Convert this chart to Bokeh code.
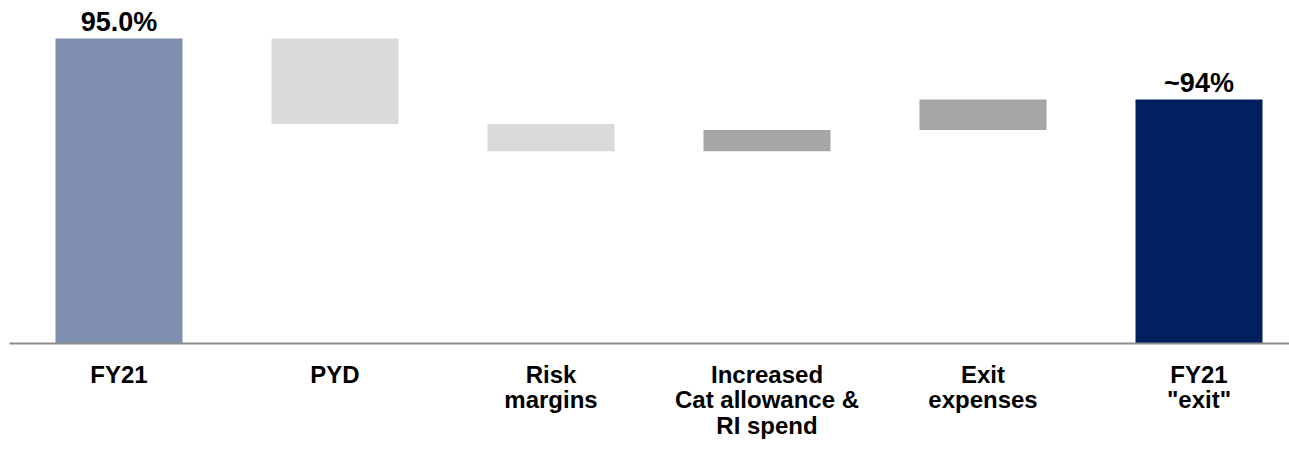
from bokeh.plotting import figure
from bokeh.models import Range1d, FixedTicker, ColumnDataSource
from bokeh.embed import file_html
from bokeh.resources import INLINE
from bokeh.core.properties import value

# ---- data ----
categories = ["FY21", "PYD", "Risk\nmargins", "Increased\nCat allowance &\nRI spend",
              "Exit\nexpenses", "FY21\n\"exit\""]
start_total = 95.0
steps = [-1.40, -0.45, 0.35, 0.50]
end_total = 94.0
axis_base = 90.0
total_labels = ["95.0%", "~94%"]
bar_colors = ["#7F8FAF", "#D9D9D9", "#D9D9D9", "#A6A6A6", "#A6A6A6", "#002060"]

# ---- waterfall geometry from data ----
xs = list(range(len(categories)))
bottoms = [axis_base]
tops = [start_total]
level = start_total
for d in steps:
    new = level + d
    bottoms.append(min(level, new))
    tops.append(max(level, new))
    level = new
bottoms.append(axis_base)
tops.append(end_total)

src = ColumnDataSource(dict(x=xs, bottom=bottoms, top=tops, color=bar_colors))

p = figure(frame_width=1280, frame_height=343, output_backend="svg", toolbar_location=None,
           x_range=Range1d(-0.507, 5.419), y_range=Range1d(axis_base, 95.623),
           y_axis_location=None, min_border_left=9, min_border_right=0,
           min_border_top=0, min_border_bottom=0)
p.outline_line_color = None
p.xgrid.visible = False
p.ygrid.visible = False

p.vbar(x="x", width=0.588, bottom="bottom", top="top", fill_color="color",
       line_color=None, source=src)

tsrc = ColumnDataSource(dict(x=[xs[0], xs[-1]], y=[start_total, end_total], t=total_labels))
p.text(x="x", y="y", text="t", source=tsrc, text_align="center",
       text_baseline="bottom", y_offset=-2,
       text_font=value("Liberation Sans"), text_font_style="bold",
       text_font_size="27px", text_color="black")

ax = p.xaxis[0]
ax.ticker = FixedTicker(ticks=xs)
ax.major_label_overrides = {i: c for i, c in zip(xs, categories)}
ax.major_tick_line_color = None
ax.minor_tick_line_color = None
ax.axis_line_color = "#8C8C8C"
ax.axis_line_width = 2
ax.major_label_text_font = "Liberation Sans"
ax.major_label_text_font_style = "bold"
ax.major_label_text_font_size = "24px"
ax.major_label_text_line_height = 0.95
ax.major_label_text_color = "black"
ax.major_label_standoff = 17
ax.major_tick_out = 0
ax.major_tick_in = 0

open("out.html", "w").write(file_html(p, INLINE))
